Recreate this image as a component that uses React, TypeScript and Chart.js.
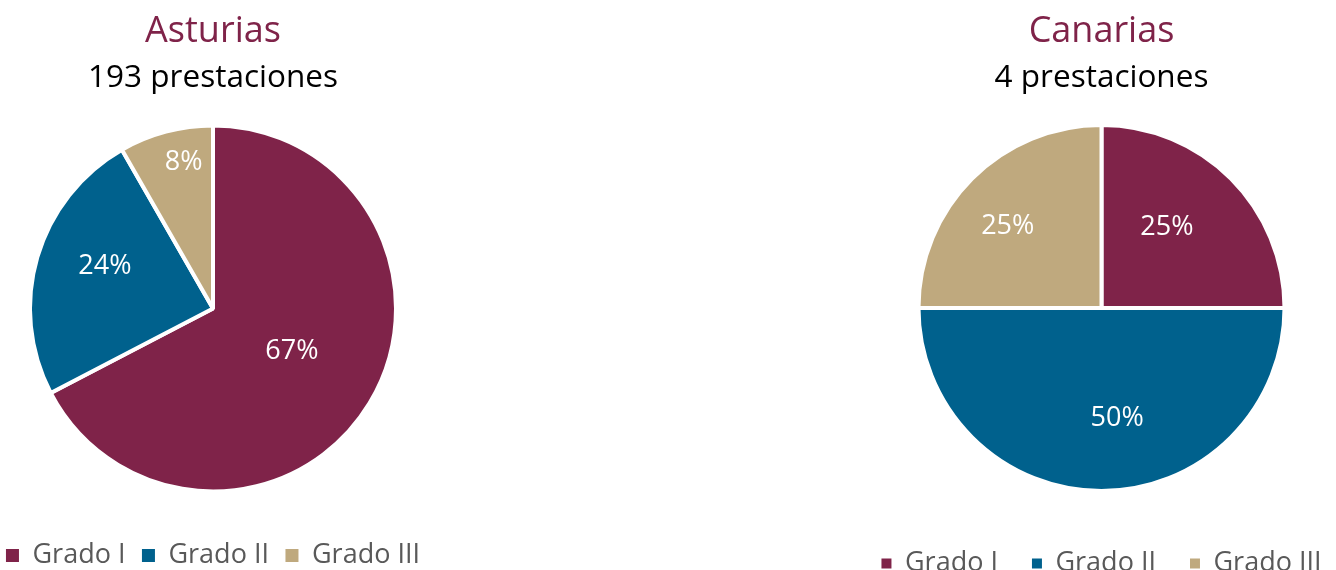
import React, { useEffect, useRef } from "react";
import { Chart, registerables, DoughnutController } from "chart.js";

Chart.register(...registerables);

// ---- Data ----
const categories = ["Grado I", "Grado II", "Grado III"];
const asturiasValues = [130, 47, 16];
const canariasValues = [1, 2, 1];
const regionTitles = ["Asturias", "Canarias"];
const regionSubtitles = ["193 prestaciones", "4 prestaciones"];
const sliceColors = ["#7F2349", "#00618D", "#BFA97E"];

const FONT = '"Open Sans", "DejaVu Sans", sans-serif';

// Percentage labels inside slices (angle shift in degrees, radius fraction)
const pctLabels = {
  id: "pctLabels",
  afterDatasetsDraw(chart: any, _args: any, opts: any) {
    const meta = chart.getDatasetMeta(0);
    const data = chart.data.datasets[0].data as number[];
    const total = data.reduce((a, b) => a + b, 0);
    const ctx = chart.ctx;
    ctx.save();
    ctx.fillStyle = "#ffffff";
    ctx.font = `27px ${FONT}`;
    ctx.textAlign = "center";
    ctx.textBaseline = "middle";
    meta.data.forEach((arc: any, i: number) => {
      const p = arc.getProps(["x", "y", "startAngle", "endAngle", "outerRadius"], true);
      const adj = (opts.adjust && opts.adjust[i]) || [0, 0.6];
      const a = (p.startAngle + p.endAngle) / 2 + (adj[0] * Math.PI) / 180;
      const r = p.outerRadius * adj[1];
      ctx.fillText(
        Math.round((data[i] / total) * 100) + "%",
        p.x + r * Math.cos(a),
        p.y + r * Math.sin(a) + 1
      );
    });
    ctx.restore();
  },
};

type RegionProps = {
  left: number;
  width: number;
  height: number;
  title: string;
  subtitle: string;
  values: number[];
  legendPadding: number;
  boxSize: number;
  subtitleBottom: number;
  labelAdjust: number[][];
};

function PieRegion(props: RegionProps) {
  const ref = useRef<HTMLCanvasElement>(null);
  useEffect(() => {
    const baseGen = (DoughnutController as any).overrides.plugins.legend.labels.generateLabels;
    const chart = new Chart(ref.current as HTMLCanvasElement, {
      type: "pie",
      data: {
        labels: categories,
        datasets: [
          {
            data: props.values,
            backgroundColor: sliceColors,
            borderColor: "#ffffff",
            borderWidth: 4,
          },
        ],
      },
      options: {
        responsive: false,
        animation: false,
        events: [],
        radius: 183,
        layout: { padding: 0 },
        plugins: {
          title: {
            display: true,
            text: props.title,
            color: "#7F2349",
            font: { family: FONT, size: 36, weight: "normal", lineHeight: 1.2 },
            padding: { top: 10.4, bottom: 10.85 },
          },
          subtitle: {
            display: true,
            text: props.subtitle,
            color: "#000000",
            font: { family: FONT, size: 31.5, weight: "normal", lineHeight: 0.85 },
            padding: { top: 0, bottom: props.subtitleBottom },
          },
          legend: {
            display: true,
            position: "bottom",
            align: "center",
            labels: {
              color: "#595959",
              font: { family: FONT, size: 27 },
              boxWidth: props.boxSize,
              boxHeight: props.boxSize,
              padding: props.legendPadding,
              generateLabels: (c: any) =>
                baseGen(c).map((l: any) => ({ ...l, lineWidth: 0, strokeStyle: "rgba(0,0,0,0)" })),
            },
          },
          tooltip: { enabled: false },
          pctLabels: { adjust: props.labelAdjust },
        } as any,
      },
      plugins: [pctLabels as any],
    });
    return () => chart.destroy();
  }, []);
  return (
    <canvas
      ref={ref}
      width={props.width}
      height={props.height}
      style={{ position: "absolute", left: props.left, top: 0, width: props.width, height: props.height }}
    />
  );
}

export default function App() {
  return (
    <div
      style={{
        position: "fixed",
        left: 0,
        top: 0,
        width: 1336,
        height: 570,
        overflow: "hidden",
        background: "#ffffff",
      }}
    >
      <PieRegion
        left={-17}
        width={460}
        height={579}
        title={regionTitles[0]}
        subtitle={regionSubtitles[0]}
        values={asturiasValues}
        legendPadding={16.5}
        boxSize={13}
        subtitleBottom={0.1}
        labelAdjust={[
          [-3.5, 0.487],
          [5.6, 0.637],
          [3.6, 0.817],
        ]}
      />
      <PieRegion
        left={836}
        width={531}
        height={587}
        title={regionTitles[1]}
        subtitle={regionSubtitles[1]}
        values={canariasValues}
        legendPadding={34}
        boxSize={10}
        subtitleBottom={8.6}
        labelAdjust={[
          [-6.3, 0.572],
          [-8.2, 0.602],
          [-3.6, 0.683],
        ]}
      />
    </div>
  );
}
